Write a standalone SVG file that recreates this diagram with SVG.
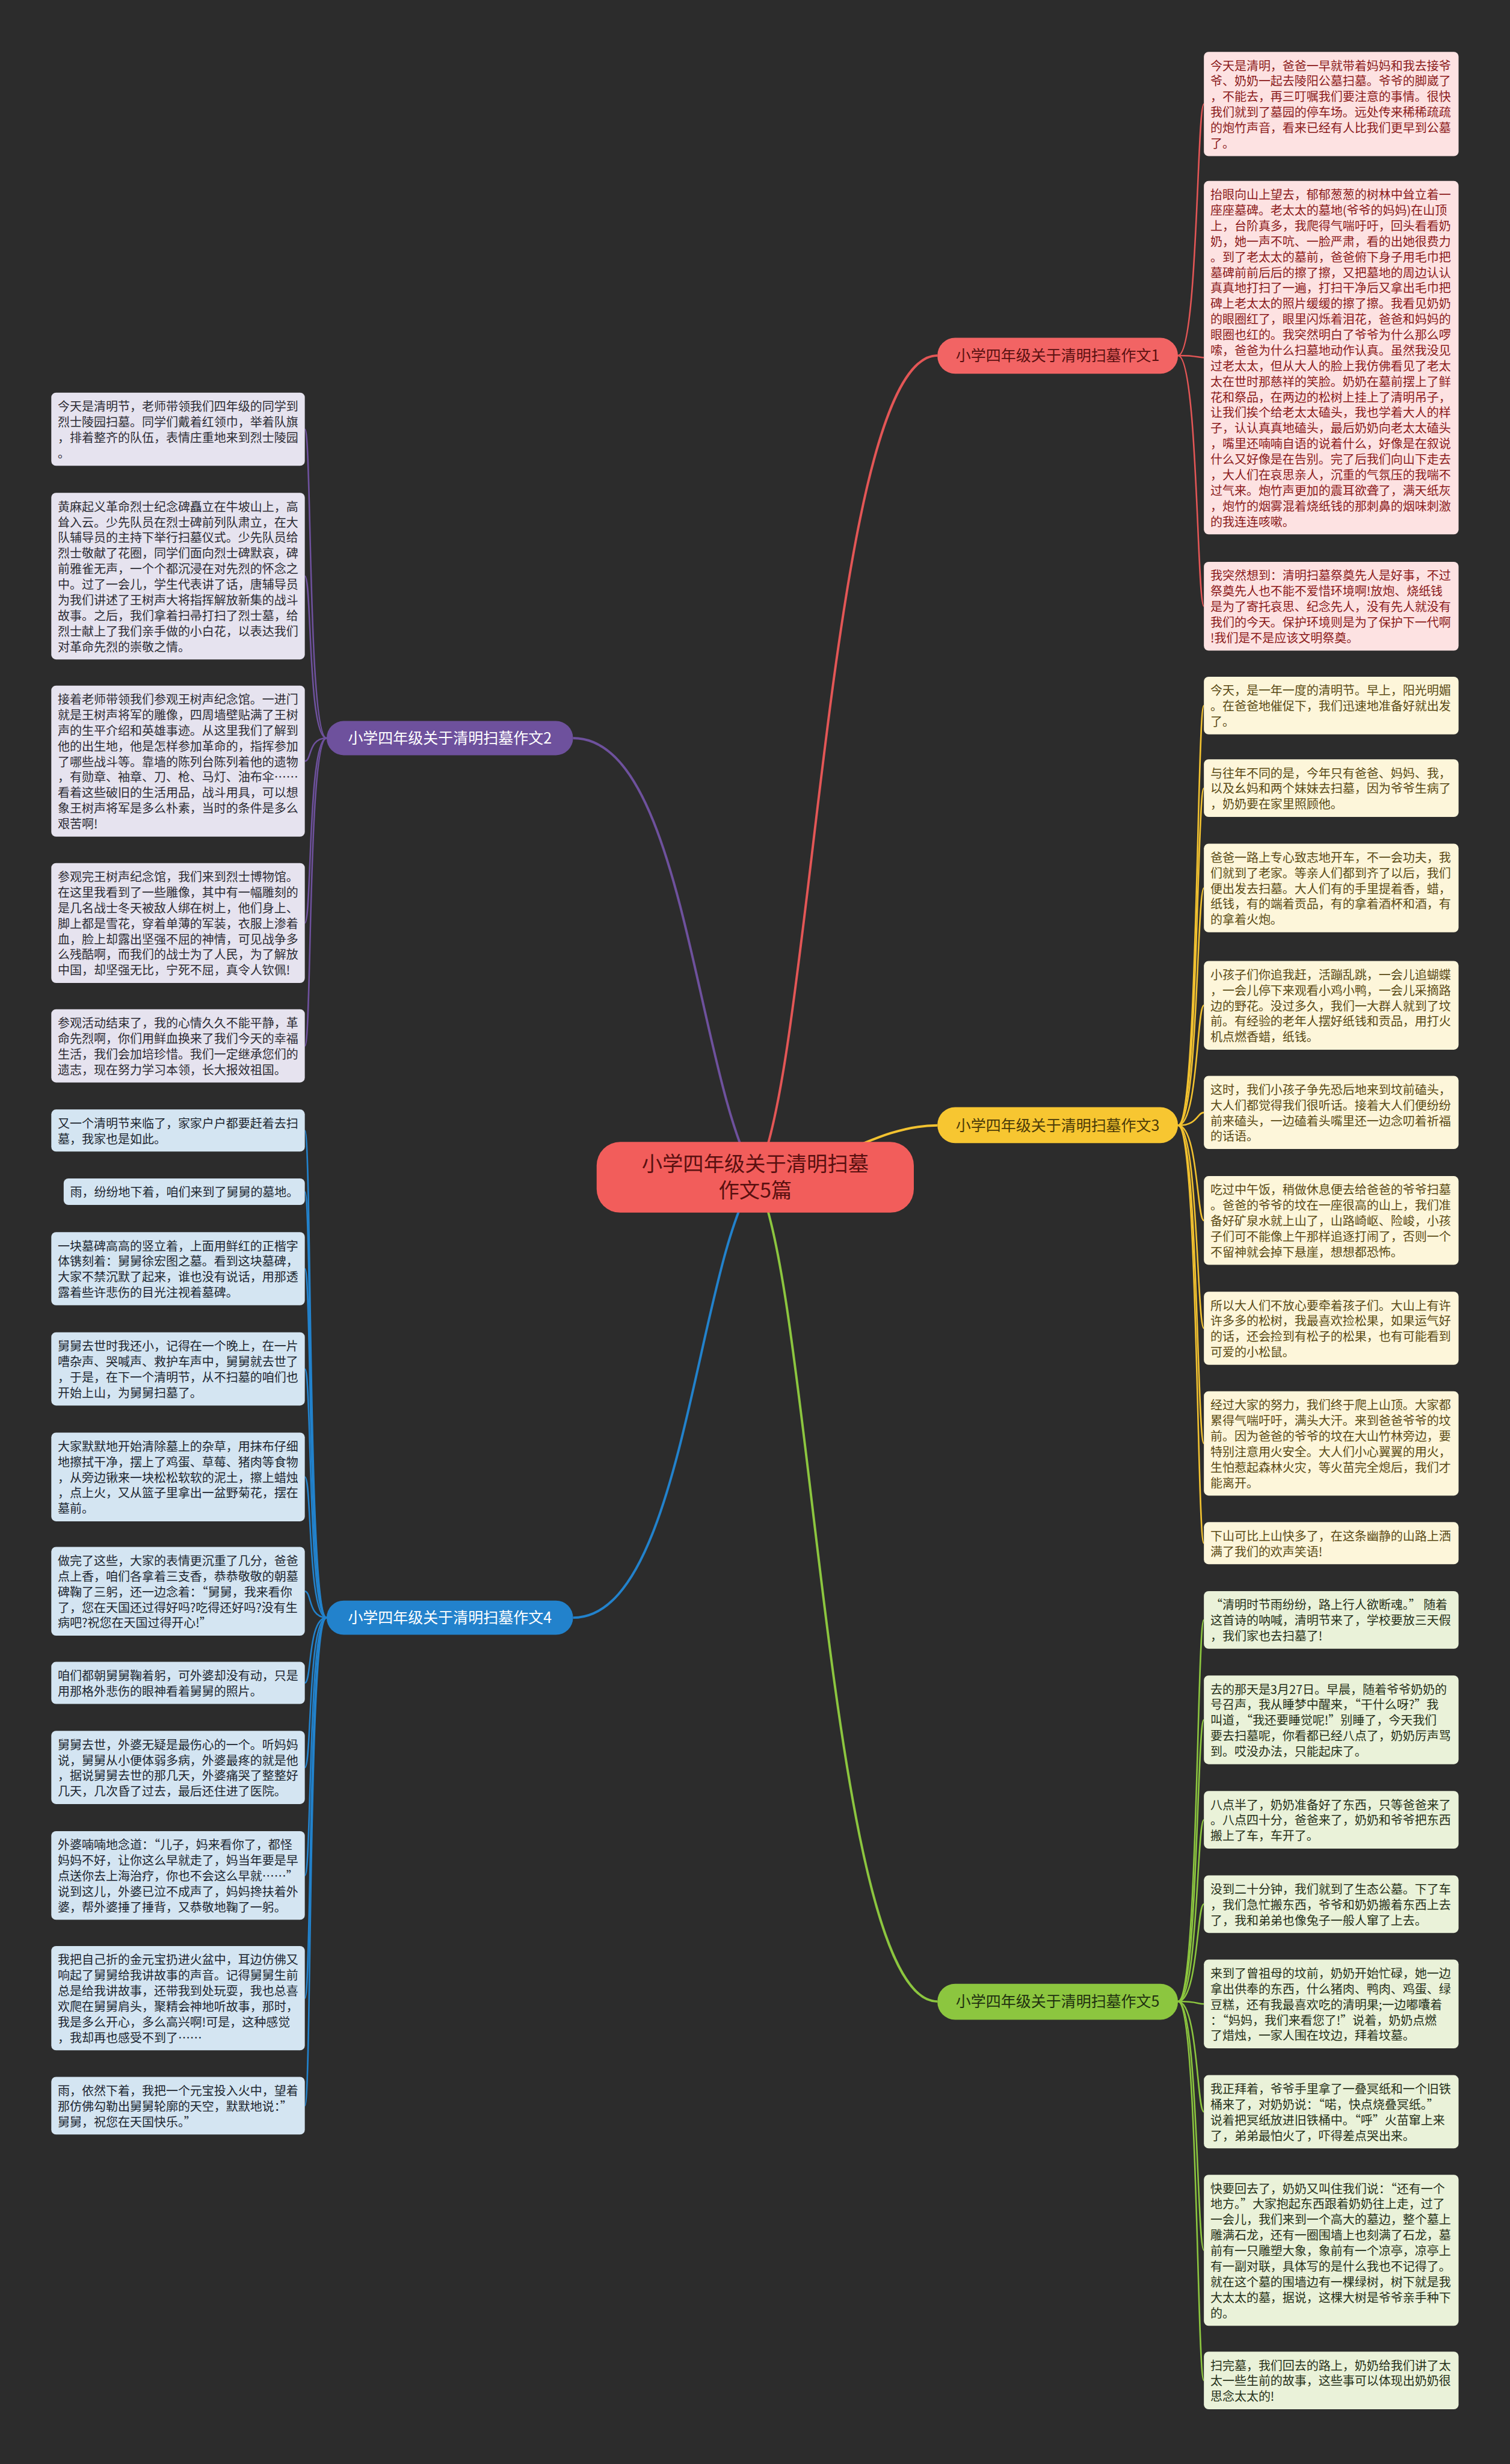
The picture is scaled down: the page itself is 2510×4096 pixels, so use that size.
<svg xmlns="http://www.w3.org/2000/svg" width="2510" height="4096" viewBox="0 0 2510 4096">
<style>
.t{font-family:"Noto Sans CJK SC","Noto Sans",sans-serif;font-size:20.4px}
.lf{stroke:none}
.rL{fill:#fde2e2}.rT{fill:#8b1a1a}
.yL{fill:#fdf6da}.yT{fill:#5a4a14}
.gL{fill:#eaf2d9}.gT{fill:#263018}
.pL{fill:#e6e3ef}.pT{fill:#2c2c34}
.bL{fill:#d4e5f2}.bT{fill:#1c2630}
.c{fill:none;stroke-width:2.6}
.cm{fill:none;stroke-width:4}
.bn{font-family:"Noto Sans CJK SC","Noto Sans",sans-serif;font-size:25.5px;text-anchor:middle}
</style>
<rect x="0" y="0" width="2510" height="4096" fill="#2c2c2c"/>
<g transform="scale(0.98)">
<g id="connectors">
<path class="cm" stroke="#e35656" d="M1281,1997 C1378,1840 1405,603 1590,603"/>
<path class="cm" stroke="#f2c230" d="M1281,1997 C1400,1990 1480,1909 1590,1909"/>
<path class="cm" stroke="#8cc63f" d="M1281,1997 C1378,2160 1405,3395 1590,3395"/>
<path class="cm" stroke="#6e519d" d="M1281,1997 C1180,1820 1160,1252 972,1252"/>
<path class="cm" stroke="#2282cc" d="M1281,1997 C1180,2150 1160,2744 972,2744"/>
<g stroke="#e35656">
<path class="c" d="M1998,603 C2032,603 2030,176.5 2042,176.5"/>
<path class="c" d="M1998,603 C2032,603 2030,606.6 2042,606.6"/>
<path class="c" d="M1998,603 C2032,603 2030,1028.3 2042,1028.3"/>
</g>
<g stroke="#f2c230">
<path class="c" d="M1998,1909 C2032,1909 2030,1196.9 2042,1196.9"/>
<path class="c" d="M1998,1909 C2032,1909 2030,1336.9 2042,1336.9"/>
<path class="c" d="M1998,1909 C2032,1909 2030,1506.3 2042,1506.3"/>
<path class="c" d="M1998,1909 C2032,1909 2030,1705.3 2042,1705.3"/>
<path class="c" d="M1998,1909 C2032,1909 2030,1887.1 2042,1887.1"/>
<path class="c" d="M1998,1909 C2032,1909 2030,2070.3 2042,2070.3"/>
<path class="c" d="M1998,1909 C2032,1909 2030,2253.1 2042,2253.1"/>
<path class="c" d="M1998,1909 C2032,1909 2030,2448.5 2042,2448.5"/>
<path class="c" d="M1998,1909 C2032,1909 2030,2617.7 2042,2617.7"/>
</g>
<g stroke="#8cc63f">
<path class="c" d="M1998,3395 C2032,3395 2030,2747.9 2042,2747.9"/>
<path class="c" d="M1998,3395 C2032,3395 2030,2917.3 2042,2917.3"/>
<path class="c" d="M1998,3395 C2032,3395 2030,3086.9 2042,3086.9"/>
<path class="c" d="M1998,3395 C2032,3395 2030,3229.9 2042,3229.9"/>
<path class="c" d="M1998,3395 C2032,3395 2030,3399.3 2042,3399.3"/>
<path class="c" d="M1998,3395 C2032,3395 2030,3582.1 2042,3582.1"/>
<path class="c" d="M1998,3395 C2032,3395 2030,3817.1 2042,3817.1"/>
<path class="c" d="M1998,3395 C2032,3395 2030,4037.9 2042,4037.9"/>
</g>
<g stroke="#6e519d">
<path class="c" d="M554,1252 C522,1252 529,728.1 517,728.1"/>
<path class="c" d="M554,1252 C522,1252 529,977.3 517,977.3"/>
<path class="c" d="M554,1252 C522,1252 529,1291.1 517,1291.1"/>
<path class="c" d="M554,1252 C522,1252 529,1565.7 517,1565.7"/>
<path class="c" d="M554,1252 C522,1252 529,1774.1 517,1774.1"/>
</g>
<g stroke="#2282cc">
<path class="c" d="M554,2744 C522,2744 529,1917.7 517,1917.7"/>
<path class="c" d="M554,2744 C522,2744 529,2021.5 517,2021.5"/>
<path class="c" d="M554,2744 C522,2744 529,2152.1 517,2152.1"/>
<path class="c" d="M554,2744 C522,2744 529,2322.1 517,2322.1"/>
<path class="c" d="M554,2744 C522,2744 529,2505.3 517,2505.3"/>
<path class="c" d="M554,2744 C522,2744 529,2699.3 517,2699.3"/>
<path class="c" d="M554,2744 C522,2744 529,2854.7 517,2854.7"/>
<path class="c" d="M554,2744 C522,2744 529,2998.1 517,2998.1"/>
<path class="c" d="M554,2744 C522,2744 529,3181.3 517,3181.3"/>
<path class="c" d="M554,2744 C522,2744 529,3389.5 517,3389.5"/>
<path class="c" d="M554,2744 C522,2744 529,3571.9 517,3571.9"/>
</g>
</g>

<g id="center">
<rect x="1012" y="1937" width="538" height="120" rx="40" fill="#f25d5b"/>
<text x="1281" y="1987" text-anchor="middle" font-family="'Noto Sans CJK SC','Noto Sans',sans-serif" font-size="35" fill="#5a1010">小学四年级关于清明扫墓</text>
<text x="1281" y="2032" text-anchor="middle" font-family="'Noto Sans CJK SC','Noto Sans',sans-serif" font-size="35" fill="#5a1010">作文5篇</text>
</g>

<g id="branch1"><rect x="1590" y="573" width="408" height="61" rx="30" fill="#f26464"/><text class="bn" x="1794" y="612" fill="#5a1010">小学四年级关于清明扫墓作文1</text></g>
<g id="branch3"><rect x="1590" y="1878" width="408" height="61" rx="30" fill="#f7c631"/><text class="bn" x="1794" y="1918" fill="#4a3a08">小学四年级关于清明扫墓作文3</text></g>
<g id="branch5"><rect x="1590" y="3365" width="408" height="61" rx="30" fill="#8cc63f"/><text class="bn" x="1794" y="3404" fill="#1f3010">小学四年级关于清明扫墓作文5</text></g>
<g id="branch2"><rect x="554" y="1223" width="418" height="58" rx="29" fill="#6e519d"/><text class="bn" x="763" y="1261" fill="#ffffff">小学四年级关于清明扫墓作文2</text></g>
<g id="branch4"><rect x="554" y="2715" width="418" height="58" rx="29" fill="#2282cc"/><text class="bn" x="763" y="2753" fill="#ffffff">小学四年级关于清明扫墓作文4</text></g>

<g id="r1a"><rect class="rL" x="2042" y="88" width="432" height="176.9" rx="8"/><text class="t rT" x="2053" y="119"><tspan x="2053">今天是清明，爸爸一早就带着妈妈和我去接爷</tspan><tspan x="2053" dy="26.4">爷、奶奶一起去陵阳公墓扫墓。爷爷的脚崴了</tspan><tspan x="2053" dy="26.4">，不能去，再三叮嘱我们要注意的事情。很快</tspan><tspan x="2053" dy="26.4">我们就到了墓园的停车场。远处传来稀稀疏疏</tspan><tspan x="2053" dy="26.4">的炮竹声音，看来已经有人比我们更早到公墓</tspan><tspan x="2053" dy="26.4">了。</tspan></text></g>
<g id="r1b"><rect class="rL" x="2042" y="307" width="432" height="599.3" rx="8"/><text class="t rT" x="2053" y="338"><tspan x="2053">抬眼向山上望去，郁郁葱葱的树林中耸立着一</tspan><tspan x="2053" dy="26.4">座座墓碑。老太太的墓地(爷爷的妈妈)在山顶</tspan><tspan x="2053" dy="26.4">上，台阶真多，我爬得气喘吁吁，回头看看奶</tspan><tspan x="2053" dy="26.4">奶，她一声不吭、一脸严肃，看的出她很费力</tspan><tspan x="2053" dy="26.4">。到了老太太的墓前，爸爸俯下身子用毛巾把</tspan><tspan x="2053" dy="26.4">墓碑前前后后的擦了擦，又把墓地的周边认认</tspan><tspan x="2053" dy="26.4">真真地打扫了一遍，打扫干净后又拿出毛巾把</tspan><tspan x="2053" dy="26.4">碑上老太太的照片缓缓的擦了擦。我看见奶奶</tspan><tspan x="2053" dy="26.4">的眼圈红了，眼里闪烁着泪花，爸爸和妈妈的</tspan><tspan x="2053" dy="26.4">眼圈也红的。我突然明白了爷爷为什么那么啰</tspan><tspan x="2053" dy="26.4">嗦，爸爸为什么扫墓地动作认真。虽然我没见</tspan><tspan x="2053" dy="26.4">过老太太，但从大人的脸上我仿佛看见了老太</tspan><tspan x="2053" dy="26.4">太在世时那慈祥的笑脸。奶奶在墓前摆上了鲜</tspan><tspan x="2053" dy="26.4">花和祭品，在两边的松树上挂上了清明吊子，</tspan><tspan x="2053" dy="26.4">让我们挨个给老太太磕头，我也学着大人的样</tspan><tspan x="2053" dy="26.4">子，认认真真地磕头，最后奶奶向老太太磕头</tspan><tspan x="2053" dy="26.4">，嘴里还喃喃自语的说着什么，好像是在叙说</tspan><tspan x="2053" dy="26.4">什么又好像是在告别。完了后我们向山下走去</tspan><tspan x="2053" dy="26.4">，大人们在哀思亲人，沉重的气氛压的我喘不</tspan><tspan x="2053" dy="26.4">过气来。炮竹声更加的震耳欲聋了，满天纸灰</tspan><tspan x="2053" dy="26.4">，炮竹的烟雾混着烧纸钱的那刺鼻的烟味刺激</tspan><tspan x="2053" dy="26.4">的我连连咳嗽。</tspan></text></g>
<g id="r1c"><rect class="rL" x="2042" y="953" width="432" height="150.5" rx="8"/><text class="t rT" x="2053" y="984"><tspan x="2053">我突然想到：清明扫墓祭奠先人是好事，不过</tspan><tspan x="2053" dy="26.4">祭奠先人也不能不爱惜环境啊!放炮、烧纸钱</tspan><tspan x="2053" dy="26.4">是为了寄托哀思、纪念先人，没有先人就没有</tspan><tspan x="2053" dy="26.4">我们的今天。保护环境则是为了保护下一代啊</tspan><tspan x="2053" dy="26.4">!我们是不是应该文明祭奠。</tspan></text></g>

<g id="y1"><rect class="yL" x="2042" y="1148" width="432" height="97.7" rx="8"/><text class="t yT" x="2053" y="1179"><tspan x="2053">今天，是一年一度的清明节。早上，阳光明媚</tspan><tspan x="2053" dy="26.4">。在爸爸地催促下，我们迅速地准备好就出发</tspan><tspan x="2053" dy="26.4">了。</tspan></text></g>
<g id="y2"><rect class="yL" x="2042" y="1288" width="432" height="97.7" rx="8"/><text class="t yT" x="2053" y="1319"><tspan x="2053">与往年不同的是，今年只有爸爸、妈妈、我，</tspan><tspan x="2053" dy="26.4">以及幺妈和两个妹妹去扫墓，因为爷爷生病了</tspan><tspan x="2053" dy="26.4">，奶奶要在家里照顾他。</tspan></text></g>
<g id="y3"><rect class="yL" x="2042" y="1431" width="432" height="150.5" rx="8"/><text class="t yT" x="2053" y="1462"><tspan x="2053">爸爸一路上专心致志地开车，不一会功夫，我</tspan><tspan x="2053" dy="26.4">们就到了老家。等亲人们都到齐了以后，我们</tspan><tspan x="2053" dy="26.4">便出发去扫墓。大人们有的手里提着香，蜡，</tspan><tspan x="2053" dy="26.4">纸钱，有的端着贡品，有的拿着酒杯和酒，有</tspan><tspan x="2053" dy="26.4">的拿着火炮。</tspan></text></g>
<g id="y4"><rect class="yL" x="2042" y="1630" width="432" height="150.5" rx="8"/><text class="t yT" x="2053" y="1661"><tspan x="2053">小孩子们你追我赶，活蹦乱跳，一会儿追蝴蝶</tspan><tspan x="2053" dy="26.4">，一会儿停下来观看小鸡小鸭，一会儿采摘路</tspan><tspan x="2053" dy="26.4">边的野花。没过多久，我们一大群人就到了坟</tspan><tspan x="2053" dy="26.4">前。有经验的老年人摆好纸钱和贡品，用打火</tspan><tspan x="2053" dy="26.4">机点燃香蜡，纸钱。</tspan></text></g>
<g id="y5"><rect class="yL" x="2042" y="1825" width="432" height="124.1" rx="8"/><text class="t yT" x="2053" y="1856"><tspan x="2053">这时，我们小孩子争先恐后地来到坟前磕头，</tspan><tspan x="2053" dy="26.4">大人们都觉得我们很听话。接着大人们便纷纷</tspan><tspan x="2053" dy="26.4">前来磕头，一边磕着头嘴里还一边念叨着祈福</tspan><tspan x="2053" dy="26.4">的话语。</tspan></text></g>
<g id="y6"><rect class="yL" x="2042" y="1995" width="432" height="150.5" rx="8"/><text class="t yT" x="2053" y="2026"><tspan x="2053">吃过中午饭，稍做休息便去给爸爸的爷爷扫墓</tspan><tspan x="2053" dy="26.4">。爸爸的爷爷的坟在一座很高的山上，我们准</tspan><tspan x="2053" dy="26.4">备好矿泉水就上山了，山路崎岖、险峻，小孩</tspan><tspan x="2053" dy="26.4">子们可不能像上午那样追逐打闹了，否则一个</tspan><tspan x="2053" dy="26.4">不留神就会掉下悬崖，想想都恐怖。</tspan></text></g>
<g id="y7"><rect class="yL" x="2042" y="2191" width="432" height="124.1" rx="8"/><text class="t yT" x="2053" y="2222"><tspan x="2053">所以大人们不放心要牵着孩子们。大山上有许</tspan><tspan x="2053" dy="26.4">许多多的松树，我最喜欢捡松果，如果运气好</tspan><tspan x="2053" dy="26.4">的话，还会捡到有松子的松果，也有可能看到</tspan><tspan x="2053" dy="26.4">可爱的小松鼠。</tspan></text></g>
<g id="y8"><rect class="yL" x="2042" y="2360" width="432" height="176.9" rx="8"/><text class="t yT" x="2053" y="2391"><tspan x="2053">经过大家的努力，我们终于爬上山顶。大家都</tspan><tspan x="2053" dy="26.4">累得气喘吁吁，满头大汗。来到爸爸爷爷的坟</tspan><tspan x="2053" dy="26.4">前。因为爸爸的爷爷的坟在大山竹林旁边，要</tspan><tspan x="2053" dy="26.4">特别注意用火安全。大人们小心翼翼的用火，</tspan><tspan x="2053" dy="26.4">生怕惹起森林火灾，等火苗完全熄后，我们才</tspan><tspan x="2053" dy="26.4">能离开。</tspan></text></g>
<g id="y9"><rect class="yL" x="2042" y="2582" width="432" height="71.3" rx="8"/><text class="t yT" x="2053" y="2613"><tspan x="2053">下山可比上山快多了，在这条幽静的山路上洒</tspan><tspan x="2053" dy="26.4">满了我们的欢声笑语!</tspan></text></g>

<g id="g1"><rect class="gL" x="2042" y="2699" width="432" height="97.7" rx="8"/><text class="t gT" x="2053" y="2730"><tspan x="2053"> “清明时节雨纷纷，路上行人欲断魂。” 随着</tspan><tspan x="2053" dy="26.4">这首诗的呐喊，清明节来了，学校要放三天假</tspan><tspan x="2053" dy="26.4">，我们家也去扫墓了!</tspan></text></g>
<g id="g2"><rect class="gL" x="2042" y="2842" width="432" height="150.5" rx="8"/><text class="t gT" x="2053" y="2873"><tspan x="2053">去的那天是3月27日。早晨，随着爷爷奶奶的</tspan><tspan x="2053" dy="26.4">号召声，我从睡梦中醒来，“干什么呀?”我</tspan><tspan x="2053" dy="26.4">叫道，“我还要睡觉呢!”别睡了，今天我们</tspan><tspan x="2053" dy="26.4">要去扫墓呢，你看都已经八点了，奶奶厉声骂</tspan><tspan x="2053" dy="26.4">到。哎没办法，只能起床了。</tspan></text></g>
<g id="g3"><rect class="gL" x="2042" y="3038" width="432" height="97.7" rx="8"/><text class="t gT" x="2053" y="3069"><tspan x="2053">八点半了，奶奶准备好了东西，只等爸爸来了</tspan><tspan x="2053" dy="26.4">。八点四十分，爸爸来了，奶奶和爷爷把东西</tspan><tspan x="2053" dy="26.4">搬上了车，车开了。</tspan></text></g>
<g id="g4"><rect class="gL" x="2042" y="3181" width="432" height="97.7" rx="8"/><text class="t gT" x="2053" y="3212"><tspan x="2053">没到二十分钟，我们就到了生态公墓。下了车</tspan><tspan x="2053" dy="26.4">，我们急忙搬东西，爷爷和奶奶搬着东西上去</tspan><tspan x="2053" dy="26.4">了，我和弟弟也像兔子一般人窜了上去。</tspan></text></g>
<g id="g5"><rect class="gL" x="2042" y="3324" width="432" height="150.5" rx="8"/><text class="t gT" x="2053" y="3355"><tspan x="2053">来到了曾祖母的坟前，奶奶开始忙碌，她一边</tspan><tspan x="2053" dy="26.4">拿出供奉的东西，什么猪肉、鸭肉、鸡蛋、绿</tspan><tspan x="2053" dy="26.4">豆糕，还有我最喜欢吃的清明果;一边嘟囔着</tspan><tspan x="2053" dy="26.4">：“妈妈，我们来看您了!”说着，奶奶点燃</tspan><tspan x="2053" dy="26.4">了焟烛，一家人围在坟边，拜着坟墓。</tspan></text></g>
<g id="g6"><rect class="gL" x="2042" y="3520" width="432" height="124.1" rx="8"/><text class="t gT" x="2053" y="3551"><tspan x="2053">我正拜着，爷爷手里拿了一叠冥纸和一个旧铁</tspan><tspan x="2053" dy="26.4">桶来了，对奶奶说：“喏，快点烧叠冥纸。”</tspan><tspan x="2053" dy="26.4">说着把冥纸放进旧铁桶中。“呼”火苗窜上来</tspan><tspan x="2053" dy="26.4">了，弟弟最怕火了，吓得差点哭出来。</tspan></text></g>
<g id="g7"><rect class="gL" x="2042" y="3689" width="432" height="256.1" rx="8"/><text class="t gT" x="2053" y="3720"><tspan x="2053">快要回去了，奶奶又叫住我们说：“还有一个</tspan><tspan x="2053" dy="26.4">地方。”大家抱起东西跟着奶奶往上走，过了</tspan><tspan x="2053" dy="26.4">一会儿，我们来到一个高大的墓边，整个墓上</tspan><tspan x="2053" dy="26.4">雕满石龙，还有一圈围墙上也刻满了石龙，墓</tspan><tspan x="2053" dy="26.4">前有一只雕塑大象，象前有一个凉亭，凉亭上</tspan><tspan x="2053" dy="26.4">有一副对联，具体写的是什么我也不记得了。</tspan><tspan x="2053" dy="26.4">就在这个墓的围墙边有一棵绿树，树下就是我</tspan><tspan x="2053" dy="26.4">大太太的墓，据说，这棵大树是爷爷亲手种下</tspan><tspan x="2053" dy="26.4">的。</tspan></text></g>
<g id="g8"><rect class="gL" x="2042" y="3989" width="432" height="97.7" rx="8"/><text class="t gT" x="2053" y="4020"><tspan x="2053">扫完墓，我们回去的路上，奶奶给我们讲了太</tspan><tspan x="2053" dy="26.4">太一些生前的故事，这些事可以体现出奶奶很</tspan><tspan x="2053" dy="26.4">思念太太的!</tspan></text></g>

<g id="p1"><rect class="pL" x="87" y="666" width="430" height="124.1" rx="8"/><text class="t pT" x="98" y="697"><tspan x="98">今天是清明节，老师带领我们四年级的同学到</tspan><tspan x="98" dy="26.4">烈士陵园扫墓。同学们戴着红领巾，举着队旗</tspan><tspan x="98" dy="26.4">，排着整齐的队伍，表情庄重地来到烈士陵园</tspan><tspan x="98" dy="26.4">。</tspan></text></g>
<g id="p2"><rect class="pL" x="87" y="836" width="430" height="282.5" rx="8"/><text class="t pT" x="98" y="867"><tspan x="98">黄麻起义革命烈士纪念碑矗立在牛坡山上，高</tspan><tspan x="98" dy="26.4">耸入云。少先队员在烈士碑前列队肃立，在大</tspan><tspan x="98" dy="26.4">队辅导员的主持下举行扫墓仪式。少先队员给</tspan><tspan x="98" dy="26.4">烈士敬献了花圈，同学们面向烈士碑默哀，碑</tspan><tspan x="98" dy="26.4">前雅雀无声，一个个都沉浸在对先烈的怀念之</tspan><tspan x="98" dy="26.4">中。过了一会儿，学生代表讲了话，唐辅导员</tspan><tspan x="98" dy="26.4">为我们讲述了王树声大将指挥解放新集的战斗</tspan><tspan x="98" dy="26.4">故事。之后，我们拿着扫帚打扫了烈士墓，给</tspan><tspan x="98" dy="26.4">烈士献上了我们亲手做的小白花，以表达我们</tspan><tspan x="98" dy="26.4">对革命先烈的崇敬之情。</tspan></text></g>
<g id="p3"><rect class="pL" x="87" y="1163" width="430" height="256.1" rx="8"/><text class="t pT" x="98" y="1194"><tspan x="98">接着老师带领我们参观王树声纪念馆。一进门</tspan><tspan x="98" dy="26.4">就是王树声将军的雕像，四周墙壁贴满了王树</tspan><tspan x="98" dy="26.4">声的生平介绍和英雄事迹。从这里我们了解到</tspan><tspan x="98" dy="26.4">他的出生地，他是怎样参加革命的，指挥参加</tspan><tspan x="98" dy="26.4">了哪些战斗等。靠墙的陈列台陈列着他的遗物</tspan><tspan x="98" dy="26.4">，有勋章、袖章、刀、枪、马灯、油布伞……</tspan><tspan x="98" dy="26.4">看着这些破旧的生活用品，战斗用具，可以想</tspan><tspan x="98" dy="26.4">象王树声将军是多么朴素，当时的条件是多么</tspan><tspan x="98" dy="26.4">艰苦啊!</tspan></text></g>
<g id="p4"><rect class="pL" x="87" y="1464" width="430" height="203.3" rx="8"/><text class="t pT" x="98" y="1495"><tspan x="98">参观完王树声纪念馆，我们来到烈士博物馆。</tspan><tspan x="98" dy="26.4">在这里我看到了一些雕像，其中有一幅雕刻的</tspan><tspan x="98" dy="26.4">是几名战士冬天被敌人绑在树上，他们身上、</tspan><tspan x="98" dy="26.4">脚上都是雪花，穿着单薄的军装，衣服上渗着</tspan><tspan x="98" dy="26.4">血，脸上却露出坚强不屈的神情，可见战争多</tspan><tspan x="98" dy="26.4">么残酷啊，而我们的战士为了人民，为了解放</tspan><tspan x="98" dy="26.4">中国，却坚强无比，宁死不屈，真令人钦佩!</tspan></text></g>
<g id="p5"><rect class="pL" x="87" y="1712" width="430" height="124.1" rx="8"/><text class="t pT" x="98" y="1743"><tspan x="98">参观活动结束了，我的心情久久不能平静，革</tspan><tspan x="98" dy="26.4">命先烈啊，你们用鲜血换来了我们今天的幸福</tspan><tspan x="98" dy="26.4">生活，我们会加培珍惜。我们一定继承您们的</tspan><tspan x="98" dy="26.4">遗志，现在努力学习本领，长大报效祖国。</tspan></text></g>

<g id="b1"><rect class="bL" x="87" y="1882" width="430" height="71.3" rx="8"/><text class="t bT" x="98" y="1913"><tspan x="98">又一个清明节来临了，家家户户都要赶着去扫</tspan><tspan x="98" dy="26.4">墓，我家也是如此。</tspan></text></g>
<g id="b2"><rect class="bL" x="108" y="1999" width="409" height="44.9" rx="8"/><text class="t bT" x="119" y="2030">雨，纷纷地下着，咱们来到了舅舅的墓地。</text></g>
<g id="b3"><rect class="bL" x="87" y="2090" width="430" height="124.1" rx="8"/><text class="t bT" x="98" y="2121"><tspan x="98">一块墓碑高高的竖立着，上面用鲜红的正楷字</tspan><tspan x="98" dy="26.4">体镌刻着：舅舅徐宏图之墓。看到这块墓碑，</tspan><tspan x="98" dy="26.4">大家不禁沉默了起来，谁也没有说话，用那透</tspan><tspan x="98" dy="26.4">露着些许悲伤的目光注视着墓碑。</tspan></text></g>
<g id="b4"><rect class="bL" x="87" y="2260" width="430" height="124.1" rx="8"/><text class="t bT" x="98" y="2291"><tspan x="98">舅舅去世时我还小，记得在一个晚上，在一片</tspan><tspan x="98" dy="26.4">嘈杂声、哭喊声、救护车声中，舅舅就去世了</tspan><tspan x="98" dy="26.4">，于是，在下一个清明节，从不扫墓的咱们也</tspan><tspan x="98" dy="26.4">开始上山，为舅舅扫墓了。</tspan></text></g>
<g id="b5"><rect class="bL" x="87" y="2430" width="430" height="150.5" rx="8"/><text class="t bT" x="98" y="2461"><tspan x="98">大家默默地开始清除墓上的杂草，用抹布仔细</tspan><tspan x="98" dy="26.4">地擦拭干净，摆上了鸡蛋、草莓、猪肉等食物</tspan><tspan x="98" dy="26.4">，从旁边锹来一块松松软软的泥土，擦上蜡烛</tspan><tspan x="98" dy="26.4">，点上火，又从篮子里拿出一盆野菊花，摆在</tspan><tspan x="98" dy="26.4">墓前。</tspan></text></g>
<g id="b6"><rect class="bL" x="87" y="2624" width="430" height="150.5" rx="8"/><text class="t bT" x="98" y="2655"><tspan x="98">做完了这些，大家的表情更沉重了几分，爸爸</tspan><tspan x="98" dy="26.4">点上香，咱们各拿着三支香，恭恭敬敬的朝墓</tspan><tspan x="98" dy="26.4">碑鞠了三躬，还一边念着：“舅舅，我来看你</tspan><tspan x="98" dy="26.4">了，您在天国还过得好吗?吃得还好吗?没有生</tspan><tspan x="98" dy="26.4">病吧?祝您在天国过得开心!”</tspan></text></g>
<g id="b7"><rect class="bL" x="87" y="2819" width="430" height="71.3" rx="8"/><text class="t bT" x="98" y="2850"><tspan x="98">咱们都朝舅舅鞠着躬，可外婆却没有动，只是</tspan><tspan x="98" dy="26.4">用那格外悲伤的眼神看着舅舅的照片。</tspan></text></g>
<g id="b8"><rect class="bL" x="87" y="2936" width="430" height="124.1" rx="8"/><text class="t bT" x="98" y="2967"><tspan x="98">舅舅去世，外婆无疑是最伤心的一个。听妈妈</tspan><tspan x="98" dy="26.4">说，舅舅从小便体弱多病，外婆最疼的就是他</tspan><tspan x="98" dy="26.4">，据说舅舅去世的那几天，外婆痛哭了整整好</tspan><tspan x="98" dy="26.4">几天，几次昏了过去，最后还住进了医院。</tspan></text></g>
<g id="b9"><rect class="bL" x="87" y="3106" width="430" height="150.5" rx="8"/><text class="t bT" x="98" y="3137"><tspan x="98">外婆喃喃地念道：“儿子，妈来看你了，都怪</tspan><tspan x="98" dy="26.4">妈妈不好，让你这么早就走了，妈当年要是早</tspan><tspan x="98" dy="26.4">点送你去上海治疗，你也不会这么早就……”</tspan><tspan x="98" dy="26.4">说到这儿，外婆已泣不成声了，妈妈搀扶着外</tspan><tspan x="98" dy="26.4">婆，帮外婆捶了捶背，又恭敬地鞠了一躬。</tspan></text></g>
<g id="b10"><rect class="bL" x="87" y="3301" width="430" height="176.9" rx="8"/><text class="t bT" x="98" y="3332"><tspan x="98">我把自己折的金元宝扔进火盆中，耳边仿佛又</tspan><tspan x="98" dy="26.4">响起了舅舅给我讲故事的声音。记得舅舅生前</tspan><tspan x="98" dy="26.4">总是给我讲故事，还带我到处玩耍，我也总喜</tspan><tspan x="98" dy="26.4">欢爬在舅舅肩头，聚精会神地听故事，那时，</tspan><tspan x="98" dy="26.4">我是多么开心，多么高兴啊!可是，这种感觉</tspan><tspan x="98" dy="26.4">，我却再也感受不到了……</tspan></text></g>
<g id="b11"><rect class="bL" x="87" y="3523" width="430" height="97.7" rx="8"/><text class="t bT" x="98" y="3554"><tspan x="98">雨，依然下着，我把一个元宝投入火中，望着</tspan><tspan x="98" dy="26.4">那仿佛勾勒出舅舅轮廓的天空，默默地说：”</tspan><tspan x="98" dy="26.4">舅舅，祝您在天国快乐。”</tspan></text></g>
</g>
</svg>
